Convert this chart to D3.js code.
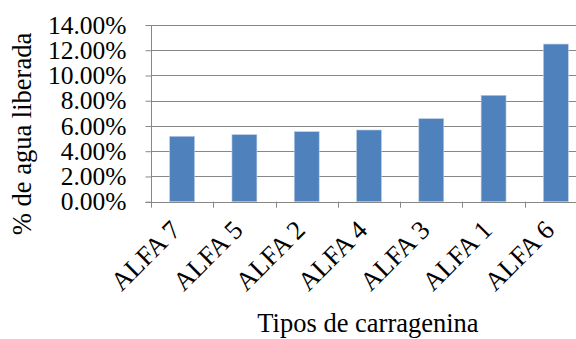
<!DOCTYPE html>
<html>
<head>
<meta charset="utf-8">
<script src="https://cdn.jsdelivr.net/npm/d3@7"></script>
<style>
  html, body { margin: 0; padding: 0; background: #fff; }
  svg { display: block; }
</style>
</head>
<body>
<svg id="chart" width="576" height="339"></svg>
<script>
// Water released per carrageenan type
const categories = ["ALFA 7", "ALFA 5", "ALFA 2", "ALFA 4", "ALFA 3", "ALFA 1", "ALFA 6"];
const values = [0.0518, 0.0531, 0.0555, 0.0568, 0.0658, 0.0843, 0.1249];
const yTicks = [0, 0.02, 0.04, 0.06, 0.08, 0.10, 0.12, 0.14];
const yTitle = "% de agua liberada";
const xTitle = "Tipos de carragenina";

const FONT = '"Liberation Serif"';
const FS = "26.5px";
const FS_TICK = "25.5px";
const svg = d3.select("#chart");
const plotL = 151, plotR = 587, plotT = 25, plotB = 201.7;
const gridColor = "#878787";

const x = d3.scaleBand().domain(categories).range([plotL, plotR]).paddingInner(0.6).paddingOuter(0.3);
const xb = d3.scaleBand().domain(categories).range([plotL, plotR]);
const y = d3.scaleLinear().domain([0, 0.14]).range([plotB, plotT]);

// horizontal gridlines
svg.append("g").selectAll("line").data(yTicks.slice(1)).join("line")
  .attr("x1", plotL).attr("x2", plotR)
  .attr("y1", d => Math.round(y(d)) + 0.5).attr("y2", d => Math.round(y(d)) + 0.5)
  .attr("stroke", gridColor).attr("stroke-width", 1);

// bars
svg.append("g").selectAll("rect").data(values).join("rect")
  .attr("x", (d, i) => x(categories[i]))
  .attr("width", x.bandwidth())
  .attr("y", d => y(d))
  .attr("height", d => plotB - y(d))
  .attr("fill", "#4f81bd")
  .attr("stroke", "#b9cde5").attr("stroke-width", 0.6);

// y axis
const yAxis = svg.append("g").attr("transform", `translate(${plotL + 0.5},0)`)
  .call(d3.axisLeft(y).tickValues(yTicks).tickSize(6).tickPadding(19)
    .tickFormat(d => (d * 100).toFixed(2) + "%"));
yAxis.attr("font-family", null).attr("font-size", null);
yAxis.select(".domain").attr("stroke", gridColor).attr("d", `M-6,${Math.round(plotB)+0.5}H0V${plotT}`);
yAxis.selectAll(".tick line").attr("stroke", gridColor);
yAxis.selectAll(".tick text")
  .style("font-family", FONT).style("font-size", FS_TICK).attr("fill", "#000");

// x axis with boundary ticks between categories
const xg = svg.append("g");
xg.append("line").attr("x1", plotL).attr("x2", plotR)
  .attr("y1", Math.round(plotB) + 0.5).attr("y2", Math.round(plotB) + 0.5)
  .attr("stroke", gridColor);
xg.selectAll("line.tk").data(categories).join("line").attr("class", "tk")
  .attr("x1", d => Math.round(xb(d)) + 0.5).attr("x2", d => Math.round(xb(d)) + 0.5)
  .attr("y1", plotB).attr("y2", plotB + 6)
  .attr("stroke", gridColor);
xg.selectAll("text").data(categories).join("text")
  .attr("transform", d => `translate(${xb(d) + xb.bandwidth() / 2},${plotB + 30}) rotate(-45)`)
  .attr("text-anchor", "end")
  .style("font-family", FONT).style("font-size", FS)
  .text(d => d);

// axis titles
svg.append("text")
  .attr("transform", `translate(31,134) rotate(-90)`)
  .attr("text-anchor", "middle")
  .style("font-family", FONT).style("font-size", FS)
  .text(yTitle);
svg.append("text")
  .attr("x", (plotL + plotR) / 2 - 1).attr("y", 332)
  .attr("text-anchor", "middle")
  .style("font-family", FONT).style("font-size", FS)
  .text(xTitle);
</script>
</body>
</html>
